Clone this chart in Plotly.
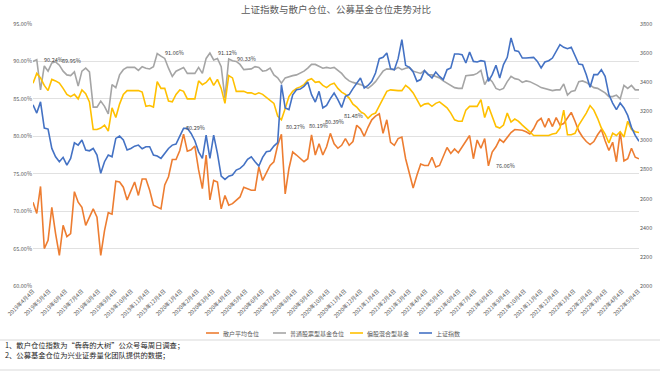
import pandas as pd
import plotly.graph_objects as go

# ---------------- data ----------------
dates = pd.date_range("2019-04-04", periods=162, freq="7D")

retail = [71.2, 69.7, 73.3, 65.0, 66.1, 70.5, 67.0, 64.1, 68.1, 66.6,
          67.0, 72.6, 71.2, 70.5, 68.1, 69.2, 70.3, 69.2, 64.1, 67.4,
          69.8, 69.6, 74.0, 73.9, 73.2, 71.5, 72.6, 73.9, 72.1, 74.3,
          74.3, 72.8, 70.8, 70.6, 70.3, 73.5, 74.6, 76.9, 76.9, 78.1,
          80.29, 78.0, 78.2, 78.7, 75.5, 73.0, 77.5, 71.5, 74.1, 73.9,
          70.3, 72.1, 70.8, 71.0, 71.5, 71.9, 73.2, 73.0, 72.8, 72.8,
          75.9, 74.1, 75.0, 76.1, 76.6, 78.8, 80.27, 72.3, 75.7, 77.9,
          77.5, 77.0, 76.6, 77.0, 80.19, 77.5, 79.0, 77.5, 78.6, 80.39,
          79.0, 78.4, 78.8, 79.7, 78.8, 79.3, 81.48, 81.0, 80.0, 81.2,
          82.2, 82.7, 83.0, 80.4, 82.2, 79.2, 78.8, 79.7, 79.9, 77.0,
          75.0, 73.1, 74.8, 76.3, 76.1, 76.1, 77.2, 75.9, 76.1, 77.2,
          78.5, 77.7, 78.3, 77.8, 78.6, 79.4, 80.1, 77.0, 79.5, 78.4,
          79.7, 76.06, 77.9, 78.6, 79.6, 79.2, 79.9, 80.5, 80.9, 80.9,
          80.8, 80.6, 80.3, 81.0, 82.0, 82.4, 81.2, 82.4, 81.3, 82.5,
          81.5, 81.7, 82.4, 83.2, 82.0, 80.7, 79.9, 79.3, 78.9, 79.3,
          80.2, 80.9, 79.4, 78.1, 79.2, 76.6, 80.6, 76.7, 77.0, 78.4,
          77.2, 77.0]

stock_fund = [90.0, 90.24, 86.2, 89.4, 88.7, 89.8, 89.95, 89.5, 88.7, 88.2,
              88.1, 88.6, 86.7, 88.7, 89.1, 88.6, 83.9, 83.9, 84.7, 84.0,
              83.0, 86.9, 86.5, 88.2, 88.9, 89.2, 89.2, 89.2, 88.8, 89.3,
              89.1, 89.0, 89.3, 91.06, 90.7, 90.4, 89.1, 88.0, 88.7, 88.9,
              89.2, 88.4, 88.4, 88.4, 89.2, 88.4, 90.4, 91.12, 90.2, 90.4,
              89.3, 85.1, 90.33, 90.1, 90.0, 89.6, 88.9, 88.9, 89.0, 89.3,
              89.2, 88.7, 88.8, 89.1, 88.2, 87.8, 87.1, 87.8, 88.0, 88.1,
              88.2, 88.4, 88.7, 89.1, 89.6, 89.6, 89.3, 89.1, 89.2, 89.1,
              89.2, 88.8, 88.4, 87.8, 87.4, 87.2, 87.1, 86.9, 86.7, 86.4,
              86.8, 87.3, 88.0, 88.7, 89.0, 88.9, 88.9, 89.2, 88.9, 89.1,
              89.2, 88.7, 88.6, 88.4, 88.8, 88.2, 88.2, 88.0, 87.8, 87.4,
              87.1, 86.8, 86.5, 86.4, 86.4, 88.1, 88.1, 88.2, 88.4, 88.8,
              86.9, 87.8, 87.3, 86.4, 86.2, 86.4, 87.3, 88.0, 87.7, 87.6,
              87.2, 87.4, 87.3, 87.1, 86.8, 86.5, 86.4, 86.2, 86.1, 86.2,
              86.2, 87.0, 85.5, 86.0, 86.1, 87.3, 87.4, 87.2, 86.9, 86.5,
              86.4, 86.1, 85.8, 85.3, 85.3, 85.5, 85.0, 86.8, 86.4, 86.8,
              86.2, 86.2]

hybrid_fund = [87.1, 88.4, 87.8, 86.8, 86.1, 87.6, 87.4, 87.1, 86.4, 85.6,
               85.3, 85.6, 85.0, 86.2, 85.7, 84.6, 80.9, 80.9, 81.1, 81.5,
               80.7, 83.8, 82.5, 84.3, 85.6, 86.1, 86.1, 86.1, 86.1, 85.9,
               84.0, 84.1, 83.9, 87.3, 86.4, 86.4, 84.7, 84.6, 85.6, 86.2,
               86.0, 85.0, 85.0, 85.0, 87.4, 86.9, 87.2, 87.8, 86.8, 87.6,
               86.4, 84.4, 88.1, 87.8, 86.0, 86.0, 86.0, 85.8, 85.8, 85.6,
               85.8, 85.6, 85.2, 84.7, 84.4, 82.7, 82.2, 83.7, 85.3, 86.0,
               86.4, 86.6, 86.9, 87.5, 87.7, 87.2, 87.3, 86.8, 86.5, 86.9,
               87.1, 86.4, 85.9, 85.6, 85.1, 84.3, 83.9, 83.3, 83.0, 82.4,
               82.9, 83.1, 84.0, 84.9, 86.0, 86.2, 86.1, 86.1, 86.1, 86.8,
               86.4, 85.8, 84.9, 84.0, 84.3, 84.4, 84.0, 84.4, 84.6, 84.2,
               83.8, 83.1, 82.2, 82.0, 82.0, 83.5, 84.0, 84.0, 84.0, 84.9,
               82.5, 84.0, 82.5, 81.3, 81.1, 81.5, 83.1, 81.9, 82.3, 82.0,
               81.5, 81.1, 80.6, 80.1, 80.1, 80.1, 80.0, 80.1, 80.3, 80.4,
               81.1, 83.5, 80.2, 80.2, 80.4, 81.5, 82.3, 83.1, 84.1, 83.5,
               82.4, 81.1, 80.3, 79.1, 80.4, 80.1, 80.6, 79.9, 82.0, 80.9,
               80.6, 80.5]

sse_index = [3245, 3188, 3265, 3085, 3078, 2945, 2888, 2854, 2884, 2831,
             2877, 2984, 2968, 3003, 2934, 2929, 2945, 2900, 2774, 2854,
             2900, 2888, 3014, 3030, 3003, 2934, 2945, 2961, 2968, 2943,
             2957, 2957, 2900, 2893, 2877, 2911, 2945, 2968, 2975, 3030,
             3083, 3083, 3048, 2998, 2922, 2877, 3037, 2877, 3037, 2911,
             2755, 2732, 2755, 2762, 2796, 2808, 2831, 2870, 2888, 2854,
             2824, 2884, 2922, 2927, 2961, 2985, 3383, 3223, 3212, 3314,
             3349, 3353, 3372, 3402, 3314, 3264, 3337, 3223, 3241, 3287,
             3326, 3280, 3227, 3303, 3315, 3356, 3395, 3429, 3360, 3378,
             3406, 3463, 3562, 3571, 3601, 3493, 3486, 3562, 3692, 3516,
             3502, 3470, 3406, 3418, 3479, 3452, 3429, 3470, 3440, 3418,
             3486, 3498, 3594, 3594, 3589, 3532, 3608, 3543, 3539, 3548,
             3543, 3406, 3452, 3516, 3429, 3521, 3571, 3704, 3617, 3612,
             3566, 3566, 3566, 3571, 3543, 3498, 3539, 3548, 3566, 3617,
             3658, 3640, 3630, 3640, 3578, 3525, 3521, 3452, 3365, 3452,
             3452, 3486, 3440, 3315, 3257, 3211, 3257, 3223, 3172, 3090,
             3035, 2994]

series_names = ["散户平均仓位", "普通股票型基金仓位", "偏股混合型基金", "上证指数"]
left_ticks = [60, 65, 70, 75, 80, 85, 90, 95]
right_ticks = [2000, 2200, 2400, 2600, 2800, 3000, 3200, 3400, 3600, 3800]

stock_label_idx = [1, 6, 33, 47, 52]
retail_label_idx = [40, 66, 74, 79, 86, 121]

title_text = "上证指数与散户仓位、公募基金仓位走势对比"
notes = ["1、散户仓位指数为“犇犇的大树”公众号每周日调查；",
         "2、公募基金仓位为兴业证券量化团队提供的数据；"]

# ---------------- style / layout ----------------
W, H = 660, 372
PL, PR, PT, PB = 33, 639, 24, 286
FONT = "Noto Sans CJK SC, Noto Sans, sans-serif"
colors = ["#ED7D31", "#A5A5A5", "#FFC000", "#4472C4"]
TICK_C = "#595959"


def fx(x):
    return (x - PL) / (PR - PL)


def fy(y):
    return (PB - y) / (PB - PT)


fig = go.Figure()
for name, vals, col, ax in zip(series_names,
                               [retail, stock_fund, hybrid_fund, sse_index],
                               colors, ["y", "y", "y", "y2"]):
    fig.add_trace(go.Scatter(x=dates, y=vals, name=name, mode="lines",
                             line=dict(color=col, width=1.6), yaxis=ax,
                             showlegend=False, hoverinfo="skip"))

annotations = []
# data labels
stock_shifts = [(5, 0), (4, 1), (6, 0), (6, 0), (6, 0)]
retail_shifts = [(0, 6), (3, 7), (-5, 9), (-7, 11), (-15, 9), (6, 0)]
for idx, (dx, dy) in zip(stock_label_idx, stock_shifts):
    annotations.append(dict(x=dates[idx], y=stock_fund[idx], xref="x", yref="y",
                            text=f"{stock_fund[idx]:.2f}%", showarrow=False,
                            xanchor="left", yanchor="middle", xshift=dx, yshift=dy,
                            font=dict(size=5.5, color="#404040", family=FONT)))
for idx, (dx, dy) in zip(retail_label_idx, retail_shifts):
    annotations.append(dict(x=dates[idx], y=retail[idx], xref="x", yref="y",
                            text=f"{retail[idx]:.2f}%", showarrow=False,
                            xanchor="left", yanchor="middle", xshift=dx, yshift=dy,
                            font=dict(size=5.5, color="#404040", family=FONT)))

# manual legend
legend_pos = [(206, 221), (273, 288), (350, 365), (419, 434)]
LEG_Y = 333
shapes = []
for (lx, tx), col, name in zip(legend_pos, colors, series_names):
    shapes.append(dict(type="line", xref="paper", yref="paper",
                       x0=fx(lx), x1=fx(lx + 13), y0=fy(LEG_Y), y1=fy(LEG_Y),
                       line=dict(color=col, width=1.6)))
    annotations.append(dict(x=fx(tx), y=fy(LEG_Y), xref="paper", yref="paper",
                            text=name, showarrow=False, xanchor="left",
                            yanchor="middle",
                            font=dict(size=6, color=TICK_C, family=FONT)))

# separator lines
for yy in (340, 370):
    shapes.append(dict(type="line", xref="paper", yref="paper",
                       x0=fx(0), x1=fx(W), y0=fy(yy), y1=fy(yy),
                       line=dict(color="#D9D9D9", width=1)))

# footnotes
for txt, yy in zip(notes, (345, 354.5)):
    annotations.append(dict(x=fx(3), y=fy(yy), xref="paper", yref="paper",
                            text=txt, showarrow=False, xanchor="left",
                            yanchor="middle",
                            font=dict(size=7.3, color="#262626", family=FONT)))

fig.update_layout(
    width=W, height=H,
    margin=dict(l=PL, r=W - PR, t=PT, b=H - PB, pad=0, autoexpand=False),
    paper_bgcolor="white", plot_bgcolor="white",
    font=dict(family=FONT, size=5.5, color=TICK_C),
    hovermode=False,
    title=dict(text=title_text, x=0.5, xanchor="center", xref="paper",
               y=1 - 10 / H, yref="container", yanchor="middle",
               font=dict(size=9.5, color=TICK_C, family=FONT)),
    xaxis=dict(type="date", range=[dates[0], dates[-1]],
               tick0="2019-04-04", dtick="M1", tickformat="%Y年%-m月%-d日",
               tickangle=-45, showgrid=False, zeroline=False, showline=False,
               ticks="", tickfont=dict(size=5.5, color=TICK_C)),
    yaxis=dict(range=[60, 95], tickvals=left_ticks,
               ticktext=[f"{v:.2f}%" for v in left_ticks],
               showgrid=True, gridcolor="#D9D9D9", gridwidth=0.8,
               zeroline=False, showline=False, ticks="",
               tickfont=dict(size=5.5, color=TICK_C)),
    yaxis2=dict(range=[2000, 3800], tickvals=right_ticks,
                ticktext=[str(v) for v in right_ticks],
                overlaying="y", side="right", showgrid=False,
                zeroline=False, showline=False, ticks="",
                tickfont=dict(size=5.5, color=TICK_C)),
    annotations=annotations,
    shapes=shapes,
)

fig.write_html(
    "out.html",
    config={"displayModeBar": False, "staticPlot": True},
    post_script="document.body.style.margin='0';document.body.style.padding='0';"
                "document.body.style.overflow='hidden';",
)
